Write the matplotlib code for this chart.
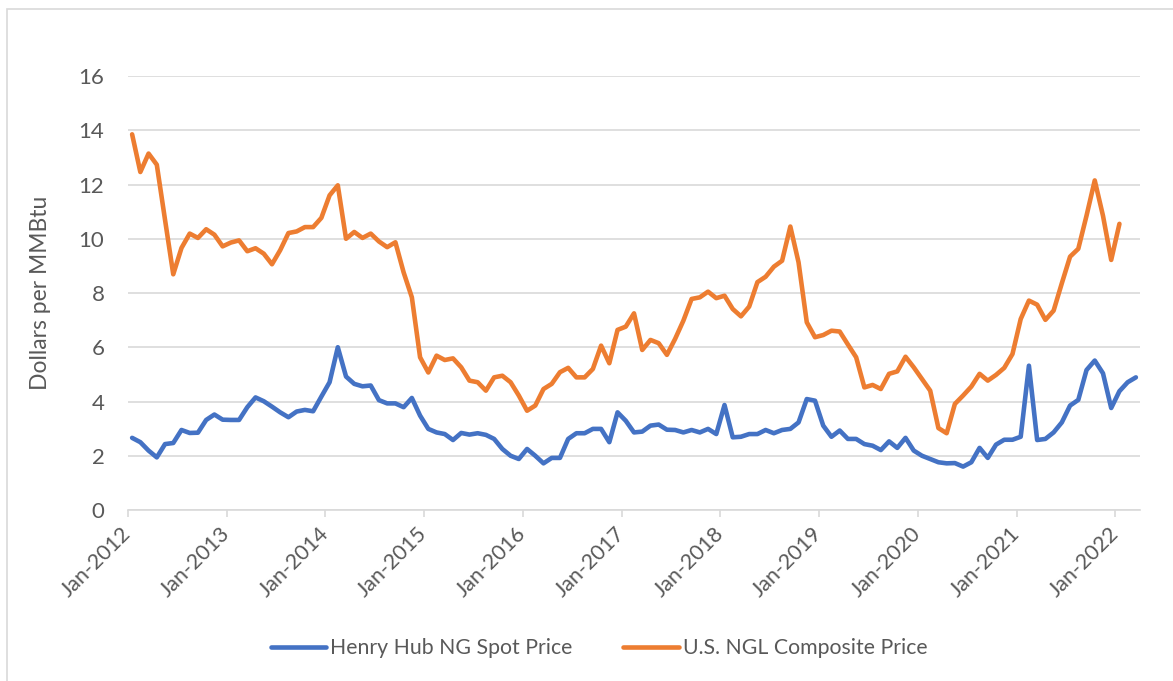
import numpy as np
import matplotlib
matplotlib.use('Agg')
import matplotlib.pyplot as plt
from matplotlib.patches import Rectangle

# monthly prices, Jan-2012 onward (dollars per MMBtu)
henry_hub = [
    2.66, 2.50, 2.19, 1.94, 2.43, 2.47, 2.95, 2.84, 2.85, 3.32, 3.52, 3.33,
    3.32, 3.32, 3.79, 4.15, 4.01, 3.81, 3.60, 3.42, 3.63, 3.69, 3.64, 4.18,
    4.71, 6.00, 4.92, 4.65, 4.56, 4.59, 4.05, 3.93, 3.93, 3.79, 4.13, 3.48,
    2.99, 2.86, 2.80, 2.58, 2.84, 2.78, 2.83, 2.77, 2.62, 2.25, 2.00, 1.88,
    2.25, 2.00, 1.72, 1.92, 1.92, 2.62, 2.83, 2.83, 2.99, 2.99, 2.50, 3.60,
    3.29, 2.86, 2.89, 3.11, 3.15, 2.96, 2.95, 2.86, 2.95, 2.86, 2.99, 2.80,
    3.87, 2.68, 2.70, 2.80, 2.80, 2.95, 2.83, 2.95, 2.99, 3.23, 4.09, 4.03,
    3.11, 2.70, 2.93, 2.62, 2.62, 2.43, 2.37, 2.21, 2.53, 2.29, 2.66, 2.19,
    2.00, 1.88, 1.76, 1.72, 1.73, 1.60, 1.76, 2.29, 1.92, 2.41, 2.59, 2.59,
    2.70, 5.32, 2.58, 2.62, 2.86, 3.23, 3.85, 4.06, 5.16, 5.51, 5.04, 3.76,
    4.38, 4.71, 4.89,
]

ngl_composite = [
    13.85, 12.46, 13.14, 12.73, 10.70, 8.69, 9.66, 10.19, 10.03, 10.35, 10.15, 9.72,
    9.86, 9.94, 9.54, 9.65, 9.45, 9.06, 9.58, 10.21, 10.27, 10.43, 10.43, 10.77,
    11.60, 11.97, 10.00, 10.25, 10.03, 10.19, 9.90, 9.69, 9.87, 8.76, 7.84, 5.63,
    5.07, 5.69, 5.53, 5.59, 5.26, 4.77, 4.71, 4.40, 4.89, 4.95, 4.71, 4.22,
    3.66, 3.85, 4.46, 4.65, 5.08, 5.24, 4.89, 4.89, 5.20, 6.06, 5.41, 6.64,
    6.76, 7.25, 5.90, 6.27, 6.15, 5.72, 6.31, 6.98, 7.78, 7.84, 8.05, 7.81,
    7.90, 7.41, 7.14, 7.50, 8.40, 8.60, 8.97, 9.19, 10.45, 9.13, 6.92, 6.37,
    6.45, 6.61, 6.58, 6.10, 5.63, 4.52, 4.61, 4.46, 5.02, 5.11, 5.65, 5.26,
    4.83, 4.40, 3.02, 2.83, 3.91, 4.22, 4.55, 5.02, 4.77, 4.98, 5.24, 5.75,
    7.04, 7.72, 7.57, 7.01, 7.35, 8.36, 9.34, 9.63, 10.85, 12.15, 10.85, 9.22,
    10.55,
]

year_labels = ['Jan-2012', 'Jan-2013', 'Jan-2014', 'Jan-2015', 'Jan-2016',
               'Jan-2017', 'Jan-2018', 'Jan-2019', 'Jan-2020', 'Jan-2021',
               'Jan-2022']
y_ticks = [0, 2, 4, 6, 8, 10, 12, 14, 16]

BLUE = '#4472C4'
ORANGE = '#ED7D31'
GRID = '#d9d9d9'
TEXT = '#595959'
W, H = 1173, 681

plt.rcParams['font.family'] = ['Lato', 'DejaVu Sans']

fig = plt.figure(figsize=(W / 100, H / 100), dpi=100)
ax = fig.add_axes([128 / W, 1 - 510 / H, (1140 - 128) / W, (510 - 76) / H])

# chart frame (only left and top edges are in view)
fig.patches.append(Rectangle((7 / W, -0.1), 1.5, 1.1 - 9 / H, transform=fig.transFigure,
                             fill=False, edgecolor=GRID, linewidth=1.2))

x_hh = np.arange(len(henry_hub))
x_ngl = np.arange(len(ngl_composite))
ax.plot(x_hh, henry_hub, color=BLUE, lw=3.3, label='Henry Hub NG Spot Price',
        solid_joinstyle='round', solid_capstyle='round', zorder=3)
ax.plot(x_ngl, ngl_composite, color=ORANGE, lw=3.3, label='U.S. NGL Composite Price',
        solid_joinstyle='round', solid_capstyle='round', zorder=3)

ax.set_xlim(-0.5, len(henry_hub) - 0.5)
ax.set_ylim(0, 16)
ax.set_yticks(y_ticks)
ax.set_yticklabels([str(v) for v in y_ticks])
ax.set_xticks(np.arange(len(year_labels)) * 12 - 0.5)
ax.set_xticklabels(year_labels, rotation=45, ha='right', va='center',
                   rotation_mode='anchor')

ax.grid(axis='y', color=GRID, lw=1.2, zorder=0)
ax.set_axisbelow(True)
for side in ['top', 'right', 'left']:
    ax.spines[side].set_visible(False)
ax.spines['bottom'].set_color(GRID)
ax.spines['bottom'].set_linewidth(1.2)

ax.tick_params(axis='y', length=0, pad=17, labelsize=16, labelcolor=TEXT)
ax.tick_params(axis='x', length=5, width=1.2, color=GRID, pad=10,
               labelsize=15.5, labelcolor=TEXT)

ax.set_ylabel('Dollars per MMBtu', fontsize=16.5, color=TEXT)
ax.yaxis.set_label_coords((51 - 128) / 1012, 0.5)

fig.legend(loc='center', bbox_to_anchor=(599 / W, 1 - 648 / H), ncol=2,
           frameon=False, fontsize=15.3, labelcolor=TEXT, handlelength=2.6,
           handletextpad=0.2, columnspacing=2.4)

fig.savefig('out.png', dpi=100)
